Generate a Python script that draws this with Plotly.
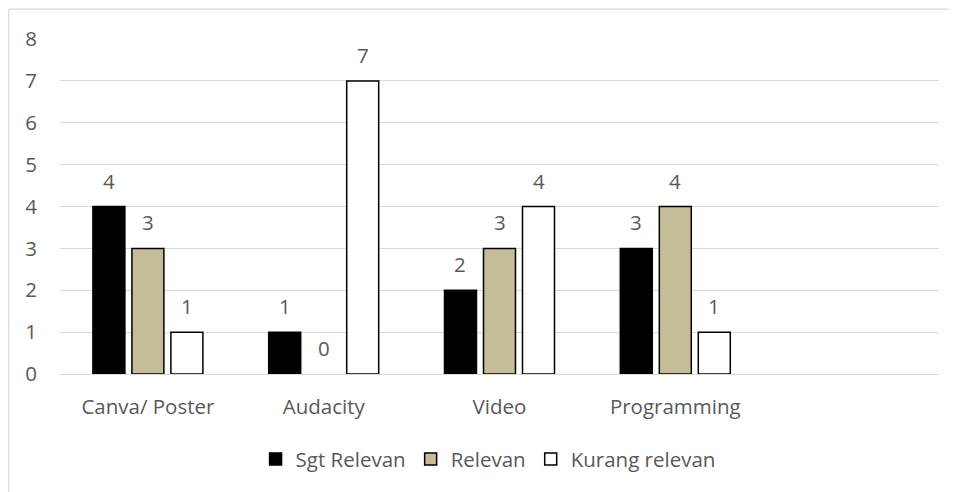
import plotly.graph_objects as go

categories = ["Canva/ Poster", "Audacity", "Video", "Programming", " "]
series_names = ["Sgt Relevan", "Relevan", "Kurang relevan"]
sgt_relevan = [4, 1, 2, 3, None]
relevan = [3, 0, 3, 4, None]
kurang_relevan = [1, 7, 4, 1, None]
y_ticks = [0, 1, 2, 3, 4, 5, 6, 7, 8]

values = [sgt_relevan, relevan, kurang_relevan]
fills = ["#000000", "#C4BD97", "#FFFFFF"]
FONT = "Open Sans"
TXT = "#595959"
FS = 20.5

W, H = 957, 492
L, R, T, B = 52, 26, 31, 126
PW, PH = W - L - R, H - T - B

fig = go.Figure()
for name, vals, col in zip(series_names, values, fills):
    fig.add_trace(go.Bar(
        x=categories, y=vals, name=name,
        marker=dict(color=col, line=dict(color="#000000",
                    width=[0 if v == 0 else 1.5 for v in vals])),
    ))

slot = 0.222
annotations = []
for j, vals in enumerate(values):
    for i, v in enumerate(vals):
        if v is None:
            continue
        annotations.append(dict(
            x=i + (j - 1) * slot, y=v, xref="x", yref="y",
            text=str(v), showarrow=False, yshift=26,
            font=dict(family=FONT, size=FS, color=TXT),
        ))

bx0 = (0.8 - L) / PW
by1 = (PH + T - 1.2) / PH
border = dict(color="#D9D9D9", width=1.3)
fig.update_layout(
    width=W, height=H,
    margin=dict(l=L, r=R, t=T, b=B),
    paper_bgcolor="white", plot_bgcolor="white",
    barmode="group", bargap=0.3345, bargroupgap=0.18,
    font=dict(family=FONT, size=FS, color=TXT),
    showlegend=True,
    legend=dict(orientation="h", x=0.487, xanchor="center", y=-0.254, yanchor="middle",
                font=dict(family=FONT, size=FS, color=TXT), itemwidth=30,
                traceorder="normal"),
    annotations=annotations,
    shapes=[
        dict(type="line", xref="paper", yref="paper", x0=bx0, x1=(W + 40 - L) / PW,
             y0=by1, y1=by1, line=border, layer="below"),
        dict(type="line", xref="paper", yref="paper", x0=bx0, x1=bx0,
             y0=-(B + 40) / PH, y1=by1, line=border, layer="below"),
    ],
)
fig.update_xaxes(
    type="category", categoryorder="array", categoryarray=categories,
    range=[-0.5, 4.5], showgrid=False, showline=False, zeroline=False,
    ticks="", ticklabelstandoff=18,
    tickfont=dict(family=FONT, size=FS, color=TXT),
)
fig.update_yaxes(
    range=[0, 8], tickvals=y_ticks, showgrid=True, gridcolor="#D9D9D9", gridwidth=1.3,
    zeroline=True, zerolinecolor="#D9D9D9", zerolinewidth=1.3, showline=False,
    ticks="", ticklabelstandoff=22,
    tickfont=dict(family=FONT, size=FS, color=TXT),
)
fig.write_html("out.html")
